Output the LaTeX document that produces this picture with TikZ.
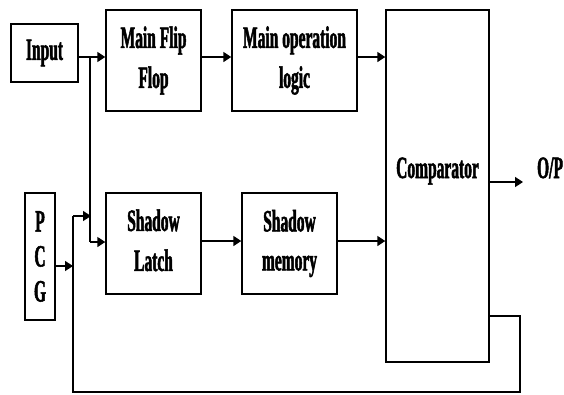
\documentclass[tikz,border=0pt]{standalone}
\usepackage{fontspec}
\setmainfont{Liberation Serif}[FakeStretch=0.5, BoldFeatures={FakeBold=1.6}]
\usetikzlibrary{arrows.meta,calc}

\tikzset{
  blk/.style={draw, line width=1.4pt, rectangle, inner sep=0pt, align=center,
              font=\bfseries\fontsize{31}{40}\selectfont},
  lbl/.style={inner sep=0pt, font=\bfseries\fontsize{31}{40}\selectfont},
  arr/.style={line width=1.5pt, -{Triangle[length=8pt,width=10pt]}},
  wire/.style={line width=1.2pt},
}

\begin{document}
\begin{tikzpicture}[x=1pt,y=-1pt]
  \useasboundingbox (0,0) rectangle (564,394);

  % upper path
  \node[blk, minimum width=67pt, minimum height=58pt] (inp) at (44.5,53) {Input};
  \node[blk, minimum width=95pt, minimum height=101pt] (mff) at (153.5,60.5) {Main Flip\\Flop};
  \node[blk, minimum width=125pt, minimum height=101pt] (mol) at (294.5,60.5) {Main operation\\logic};

  % lower path
  \node[blk, minimum width=30pt, minimum height=127pt,
        font=\bfseries\fontsize{31}{35}\selectfont] (pcg) at (40,256.5) {P\\C\\G};
  \node[blk, minimum width=95pt, minimum height=101pt] (sl) at (153.5,243.5) {Shadow\\Latch\vphantom{p}};
  \node[blk, minimum width=95pt, minimum height=101pt,
        font=\bfseries\fontsize{31}{39}\selectfont] (sm) at (289.5,243.5) {Shadow\\memory};

  % comparator
  \node[blk, minimum width=103pt, minimum height=352pt] (cmp) at (437.5,186) {};
  \node[lbl, anchor=base] (cmptxt) at (437.5,178) {Comparator};
  \node[lbl, anchor=base] (op) at (550,178) {O/P};

  % routing points
  \coordinate (top) at (0,57);
  \coordinate (br) at (90,57);
  \coordinate (fbx) at (73,216);
  \coordinate (fbin) at (91,216);
  \coordinate (fbr) at (520,316);
  \coordinate (fbb) at (520,392);

  % upper arrows
  \draw[arr] (inp.east |- top) -- (mff.west |- top);
  \draw[arr] (mff.east |- top) -- (mol.west |- top);
  \draw[arr] (mol.east |- top) -- (cmp.west |- top);

  % branch of the input to the shadow latch
  \draw[wire] (br) -- (br |- 0,242);
  \draw[arr] (br |- 0,242) -- (sl.west |- 0,242);

  % lower arrows
  \draw[arr] (sl.east |- 0,241) -- (sm.west |- 0,241);
  \draw[arr] (sm.east |- 0,241) -- (cmp.west |- 0,241);
  \draw[arr] (pcg.east |- 0,266) -- (fbx |- 0,266);

  % output
  \draw[arr] (cmp.east |- 0,182) -- (523,182);

  % feedback loop from the comparator
  \draw[wire] (cmp.east |- fbr) -- (fbr) -- (fbb) -- (fbx |- fbb) -- (fbx);
  \draw[arr] (fbx) -- (fbin);
\end{tikzpicture}
\end{document}
